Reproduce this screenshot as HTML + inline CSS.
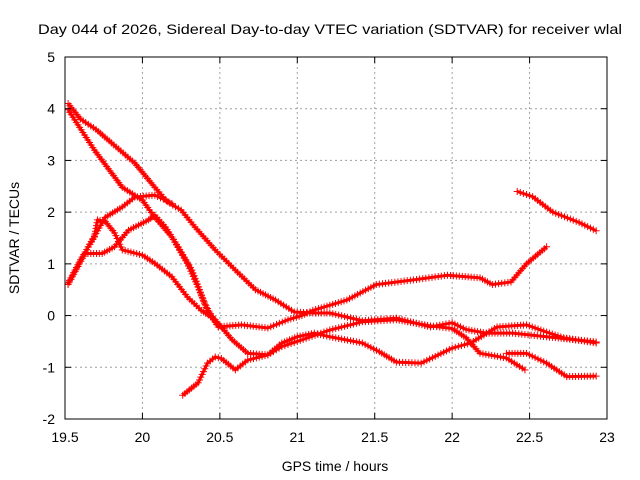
<!DOCTYPE html>
<html><head><meta charset="utf-8"><style>
html,body{margin:0;padding:0;background:#fff;}
svg{display:block;font-family:"Liberation Sans",sans-serif;}
</style></head><body>
<svg id="chart" width="640" height="480" viewBox="0 0 640 480" xmlns="http://www.w3.org/2000/svg">
<rect width="640" height="480" fill="#fff"/>
<text x="330" y="34" font-size="14" text-anchor="middle" textLength="584" lengthAdjust="spacingAndGlyphs">Day 044 of 2026, Sidereal Day-to-day VTEC variation (SDTVAR) for receiver wlal</text>
<text x="335" y="471" font-size="14" text-anchor="middle">GPS time / hours</text>
<text x="19" y="238" font-size="14" text-anchor="middle" transform="rotate(-90 19 238)">SDTVAR / TECUs</text>
<g id="grid"></g><g id="series"></g><g id="axes"></g>
</svg>
<script>
const xTicks=[19.5,20,20.5,21,21.5,22,22.5,23];
const xTickLabels=["19.5","20","20.5","21","21.5","22","22.5","23"];
const yTicks=[-2,-1,0,1,2,3,4,5];
const yTickLabels=["-2","-1","0","1","2","3","4","5"];
const track1=[[19.52,4.1],[19.6,3.8],[19.7,3.6],[19.8,3.34],[19.95,2.95],[20.08,2.48],[20.16,2.2],[20.25,2.04],[20.34,1.71],[20.47,1.27],[20.6,0.88],[20.73,0.5],[20.86,0.3],[20.98,0.07],[21.1,0.05],[21.21,0.05],[21.42,-0.1],[21.64,-0.05],[21.86,-0.22],[22.0,-0.14],[22.09,-0.27],[22.22,-0.34],[22.39,-0.34],[22.61,-0.41],[22.93,-0.51]];
const track2=[[19.52,3.98],[19.69,3.2],[19.87,2.48],[20.0,2.23],[20.08,1.9],[20.19,1.52],[20.29,1.01],[20.36,0.55],[20.42,0.1],[20.49,-0.22],[20.64,-0.18],[20.81,-0.24],[20.94,-0.08],[21.03,0.0],[21.1,0.1],[21.32,0.3],[21.51,0.6],[21.75,0.69],[21.97,0.78],[22.18,0.73],[22.26,0.6],[22.38,0.65],[22.48,1.0],[22.61,1.33]];
const track3=[[22.42,2.4],[22.52,2.3],[22.65,2.0],[22.82,1.8],[22.93,1.64]];
const track4=[[20.26,-1.54],[20.36,-1.3],[20.42,-0.92],[20.47,-0.8],[20.51,-0.83],[20.6,-1.05],[20.68,-0.86],[20.81,-0.76],[20.9,-0.53],[21.0,-0.41],[21.11,-0.34],[21.21,-0.41],[21.42,-0.53],[21.53,-0.7],[21.64,-0.9],[21.8,-0.92],[22.0,-0.63],[22.12,-0.53],[22.29,-0.22],[22.48,-0.18],[22.61,-0.32],[22.72,-0.43],[22.93,-0.53]];
const track5=[[19.52,0.63],[19.61,1.13],[19.69,1.52],[19.71,1.85],[19.76,1.82],[19.82,1.6],[19.87,1.27],[20.0,1.17],[20.08,1.01],[20.19,0.75],[20.29,0.36],[20.38,0.1],[20.47,-0.08],[20.58,-0.47],[20.68,-0.73],[20.81,-0.76],[20.9,-0.6],[21.0,-0.5],[21.21,-0.28],[21.42,-0.12],[21.64,-0.08],[21.86,-0.2],[22.0,-0.25],[22.09,-0.43],[22.18,-0.73],[22.35,-0.82],[22.47,-1.05]];
const track6=[[19.52,0.6],[19.63,1.2],[19.74,1.2],[19.82,1.33],[19.91,1.65],[20.04,1.85],[20.08,1.94],[20.15,1.71],[20.23,1.33],[20.32,0.88],[20.4,0.24],[20.49,-0.22]];
const track7=[[19.65,1.33],[19.76,1.9],[19.87,2.1],[19.95,2.29],[20.08,2.33],[20.19,2.17]];
const track8=[[22.35,-0.73],[22.48,-0.73],[22.61,-0.92],[22.74,-1.18],[22.93,-1.17]];
const tracks=[track1,track2,track3,track4,track5,track6,track7,track8];

const X0=65,X1=607,Y0=419,Y1=57;
const xs=t=>X0+(t-19.5)/(23-19.5)*(X1-X0);
const ys=v=>Y0-(v+2)/(5+2)*(Y0-Y1);
const NS="http://www.w3.org/2000/svg";
function mk(tag,attrs,parent){const e=document.createElementNS(NS,tag);for(const k in attrs)e.setAttribute(k,attrs[k]);parent.appendChild(e);return e;}
const grid=document.getElementById('grid'),axes=document.getElementById('axes'),ser=document.getElementById('series');
xTicks.forEach((t,i)=>{
  if(i>0&&i<xTicks.length-1){const g=mk('line',{x1:xs(t),x2:xs(t),y1:Y1,y2:Y0,stroke:'#a0a0a0','stroke-dasharray':'2,3'},grid);
  
  }
  mk('line',{x1:xs(t),x2:xs(t),y1:Y0,y2:Y0-6,stroke:'#000'},axes);
  mk('line',{x1:xs(t),x2:xs(t),y1:Y1,y2:Y1+6,stroke:'#000'},axes);
  const l=mk('text',{x:xs(t),y:Y0+23,'font-size':14,'text-anchor':'middle'},axes);l.textContent=xTickLabels[i];
  
  
});
yTicks.forEach((v,i)=>{
  if(i>0&&i<yTicks.length-1){const g=mk('line',{x1:X0,x2:X1,y1:ys(v),y2:ys(v),stroke:'#a0a0a0','stroke-dasharray':'2,3'},grid);
  
  }
  mk('line',{x1:X0,x2:X0+6,y1:ys(v),y2:ys(v),stroke:'#000'},axes);
  mk('line',{x1:X1,x2:X1-6,y1:ys(v),y2:ys(v),stroke:'#000'},axes);
  const l=mk('text',{x:X0-10,y:ys(v)+5,'font-size':14,'text-anchor':'end'},axes);l.textContent=yTickLabels[i];
  
  
});
const frame=mk('rect',{x:X0,y:Y1,width:X1-X0,height:Y0-Y1,fill:'none',stroke:'#000','stroke-width':1},axes);


tracks.forEach((tr,k)=>{
  const g=mk('g',{},ser);
  
  
  mk('polyline',{points:tr.map(p=>xs(p[0])+','+ys(p[1])).join(' '),fill:'none',stroke:'#ff0000','stroke-width':3,'stroke-linejoin':'round'},g);
  let d='';
  for(let i=0;i<tr.length;i++){
    const x=xs(tr[i][0]),y=ys(tr[i][1]);
    d+=`M${x-3.5},${y}h7M${x},${y-3.5}v7`;
    if(i<tr.length-1){
      const x2=xs(tr[i+1][0]),y2=ys(tr[i+1][1]);
      const n=Math.max(1,Math.round(Math.hypot(x2-x,y2-y)/3));
      for(let j=1;j<n;j++){const px=x+(x2-x)*j/n,py=y+(y2-y)*j/n;d+=`M${px-3.5},${py}h7M${px},${py-3.5}v7`;}
    }
  }
  mk('path',{d:d,stroke:'#ff0000','stroke-width':1,fill:'none'},g);
});
</script>
</body></html>
